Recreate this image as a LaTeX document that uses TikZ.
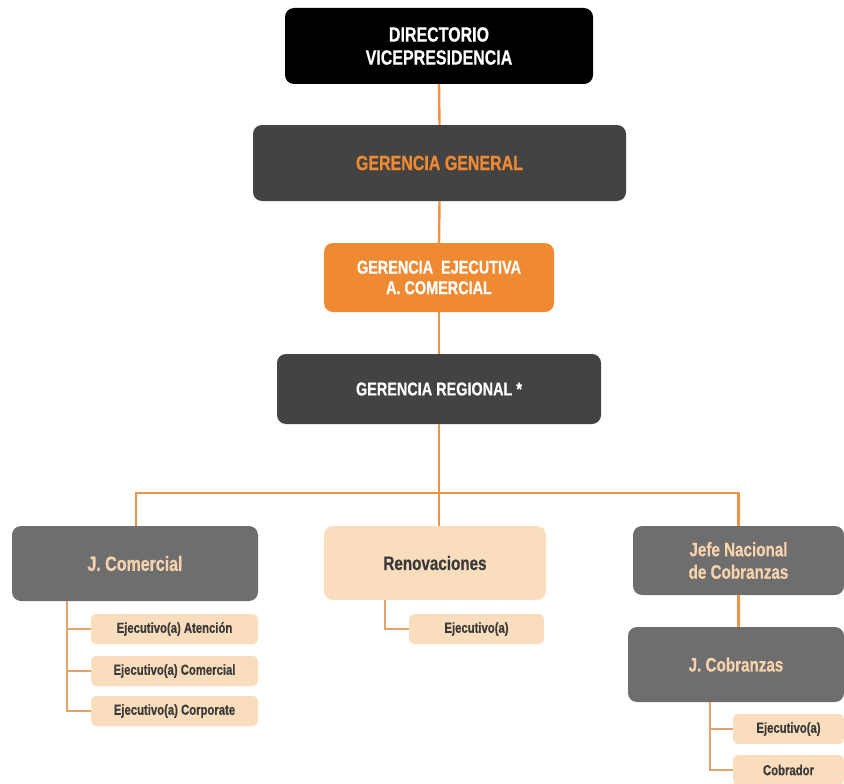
\documentclass[tikz,border=0pt]{standalone}
\usepackage{fontspec}
\newfontfamily\cf{Liberation Sans Bold}[FakeStretch=0.78,FakeBold=0.5]
\definecolor{cblack}{HTML}{000000}
\definecolor{cdark}{HTML}{434343}
\definecolor{corange}{HTML}{EF8A32}
\definecolor{cgray}{HTML}{6E6E6E}
\definecolor{cpeach}{HTML}{F9DDBC}
\definecolor{cpeachtxt}{HTML}{F6D3AC}
\definecolor{ctxt}{HTML}{3A3A3A}
\definecolor{cline}{HTML}{EF9446}
\definecolor{csub}{HTML}{E2A468}
\begin{document}
\begin{tikzpicture}[x=1pt,y=-1pt,
  box/.style={rectangle, rounded corners=9pt, inner sep=0pt, align=center},
  smallbox/.style={rectangle, rounded corners=5pt, inner sep=0pt, fill=cpeach, text=ctxt, align=center, font=\cf\fontsize{14.5}{17}\selectfont},
  conn/.style={draw=cline, line width=2.4pt},
  subconn/.style={draw=csub, line width=1.4pt}]
\useasboundingbox[fill=white] (0,0) rectangle (844,784);

\node[box, fill=cblack, text=white, minimum width=308pt, minimum height=76pt,
  font=\cf\fontsize{20.5}{23}\selectfont] (dir) at (439,46) {DIRECTORIO\\VICEPRESIDENCIA};
\node[box, fill=cdark, text=corange, minimum width=373pt, minimum height=76pt,
  font=\cf\fontsize{20.5}{23}\selectfont] (gg) at (439.5,163) {GERENCIA GENERAL};
\node[box, fill=corange, text=white, minimum width=230pt, minimum height=69pt,
  font=\cf\fontsize{18.5}{20.5}\selectfont] (ge) at (439,277.5) {GERENCIA\ \ EJECUTIVA\\A. COMERCIAL};
\node[box, fill=cdark, text=white, minimum width=324pt, minimum height=70pt,
  font=\cf\fontsize{18.5}{20.5}\selectfont] (gr) at (439,389) {GERENCIA REGIONAL *};

\node[box, fill=cgray, text=cpeachtxt, minimum width=246pt, minimum height=75pt,
  font=\cf\fontsize{20.5}{23}\selectfont] (jc) at (135,563.5) {J. Comercial};
\node[box, fill=cpeach, text=ctxt, minimum width=222pt, minimum height=74pt,
  font=\cf\fontsize{19.5}{23}\selectfont] (ren) at (435,563) {Renovaciones};
\node[box, fill=cgray, text=cpeachtxt, minimum width=211pt, minimum height=69pt,
  font=\cf\fontsize{19.5}{22.5}\selectfont] (jn) at (738.5,560.5) {Jefe Nacional\\de Cobranzas};
\node[box, fill=cgray, text=cpeachtxt, minimum width=216pt, minimum height=75pt,
  font=\cf\fontsize{19.5}{23}\selectfont] (jcob) at (736,664.5) {J. Cobranzas};

\node[smallbox, minimum width=167pt, minimum height=30pt] (a1) at (174.5,629) {Ejecutivo(a) Atención};
\node[smallbox, minimum width=167pt, minimum height=30pt] (a2) at (174.5,671) {Ejecutivo(a) Comercial};
\node[smallbox, minimum width=167pt, minimum height=30pt] (a3) at (174.5,711) {Ejecutivo(a) Corporate};
\node[smallbox, minimum width=135pt, minimum height=30pt] (r1) at (476.5,629) {Ejecutivo(a)};
\node[smallbox, minimum width=111pt, minimum height=30pt] (c1) at (788.5,729) {Ejecutivo(a)};
\node[smallbox, minimum width=111pt, minimum height=30pt] (c2) at (788.5,770) {Cobrador};

% main connectors
\draw[conn] (dir.south) -- (gg.north);
\draw[conn] (gg.south) -- (ge.north);
\draw[conn] (ge.south) -- (gr.north);
\coordinate (hub) at (439,493);
\draw[conn] (gr.south) -- (hub);
\draw[conn] (jc.north -| 136,0) |- (hub) -| (jn.north);
\draw[conn] (hub) -- (hub |- ren.north);
\draw[conn] (jn.south) -- (jn.south |- jcob.north);

% sub brackets
\coordinate (bl) at (67,0);
\coordinate (br) at (385,0);
\coordinate (bc) at (710,0);
\draw[subconn] (jc.south -| bl) |- (a3.west);
\draw[subconn] (bl |- a1.west) -- (a1.west);
\draw[subconn] (bl |- a2.west) -- (a2.west);
\draw[subconn] (ren.south -| br) |- (r1.west);
\draw[subconn] (jcob.south -| bc) |- (c2.west);
\draw[subconn] (bc |- c1.west) -- (c1.west);
\end{tikzpicture}
\end{document}
